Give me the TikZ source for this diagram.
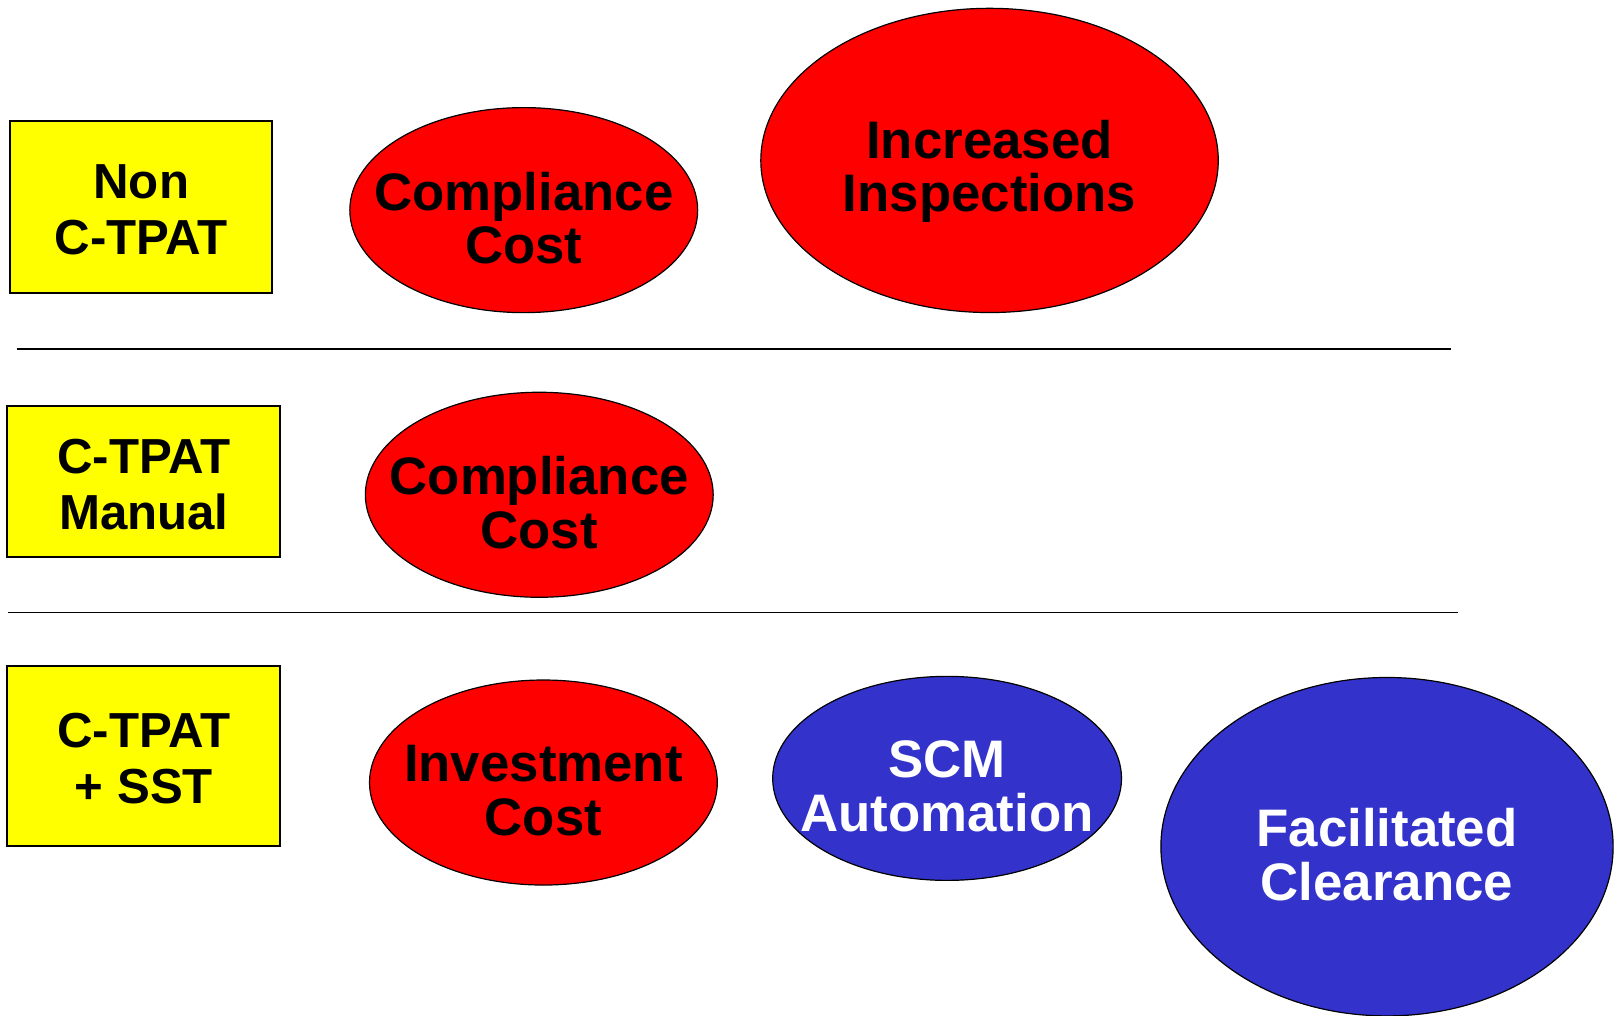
\documentclass[tikz,border=0pt]{standalone}
\usepackage{fontspec}
\setmainfont{Liberation Sans}
\usetikzlibrary{shapes.geometric}
\definecolor{cred}{HTML}{FF0000}
\definecolor{cblue}{HTML}{3333CC}
\definecolor{cyellow}{HTML}{FFFF00}
\tikzset{
  labelbox/.style={draw=black, line width=1pt, fill=cyellow, inner sep=0pt},
  boxtext/.style={align=center, inner sep=0pt, yshift=-1.5pt,
    font=\bfseries\fontsize{24.6}{28.2}\selectfont},
  oval/.style={ellipse, draw=black, line width=0.6pt, inner sep=0pt},
  redoval/.style={oval, fill=cred},
  blueoval/.style={oval, fill=cblue},
  ovaltext/.style={align=center, inner sep=0pt, yshift=-4pt,
    font=\bfseries\fontsize{26.4}{26.9}\selectfont},
  divider/.style={draw=black, line width=0.7pt}
}
\begin{document}
\begin{tikzpicture}[x=0.5175pt, y=-0.5175pt]
\useasboundingbox (0,0) rectangle (1568,981);
\fill[white] (0,0) rectangle (1568,981);
% row labels
\node[labelbox, minimum width=130.9pt, minimum height=85.9pt] (b1) at (136.5,200) {};
\node[boxtext] (b1t) at (b1.center) {Non\\C-TPAT};
\node[labelbox, minimum width=136.6pt, minimum height=75.6pt] (b2) at (139,465) {};
\node[boxtext] (b2t) at (b2.center) {C-TPAT\\Manual};
\node[labelbox, minimum width=136.6pt, minimum height=90pt] (b3) at (139,730) {};
\node[boxtext] (b3t) at (b3.center) {C-TPAT\\+ SST};
% dividers
\coordinate (l1a) at (16,337); \coordinate (l1b) at (1402,337);
\coordinate (l2a) at (8,592); \coordinate (l2b) at (1409,592);
\draw[divider] (l1a) -- (l1b);
\draw[divider] (l2a) -- (l2b);
% ovals
\node[redoval, minimum width=173.9pt, minimum height=102.5pt] (cc1) at (506,203) {};
\node[ovaltext] (cc1t) at (cc1.center) {Compliance\\Cost};
\node[redoval, minimum width=228.7pt, minimum height=152.1pt] (ii) at (956,155) {};
\node[ovaltext, yshift=-1.5pt] (iit) at (ii.center) {Increased\\Inspections};
\node[redoval, minimum width=173.9pt, minimum height=102.5pt] (cc2) at (521,478) {};
\node[ovaltext] (cc2t) at (cc2.center) {Compliance\\Cost};
\node[redoval, minimum width=173.9pt, minimum height=102.5pt] (ic) at (525,756) {};
\node[ovaltext] (ict) at (ic.center) {Investment\\Cost};
\node[blueoval, minimum width=174.4pt, minimum height=102pt] (scm) at (915,752) {};
\node[ovaltext, text=white] (scmt) at (scm.center) {SCM\\Automation};
\node[blueoval, minimum width=226.1pt, minimum height=169.2pt] (fc) at (1340,818) {};
\node[ovaltext, text=white] (fct) at (fc.center) {Facilitated\\Clearance};
\end{tikzpicture}
\end{document}
